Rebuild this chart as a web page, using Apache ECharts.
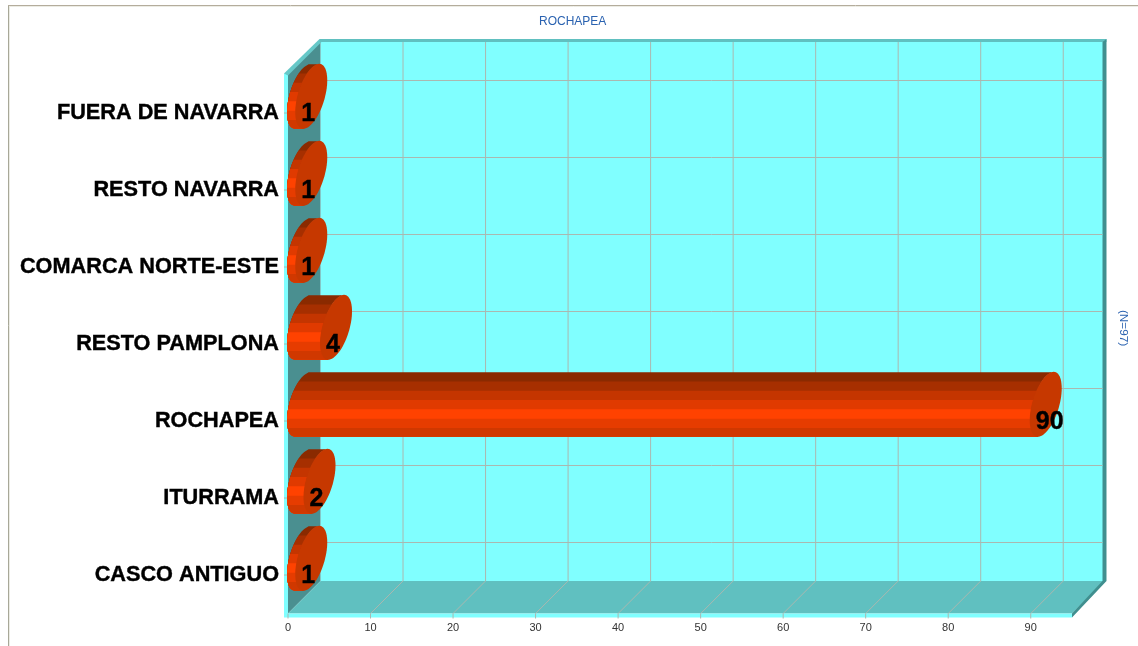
<!DOCTYPE html>
<html>
<head>
<meta charset="utf-8">
<style>html,body{margin:0;padding:0;background:#fff}#chart{width:1138px;height:646px}</style>
<script src="https://cdn.jsdelivr.net/npm/echarts@6/dist/echarts.min.js"></script>
</head>
<body>
<div id="chart"></div>
<script>
// Destination counts for ROCHAPEA, listed bottom to top on the category axis
const categories = ['CASCO ANTIGUO', 'ITURRAMA', 'ROCHAPEA', 'RESTO PAMPLONA', 'COMARCA NORTE-ESTE', 'RESTO NAVARRA', 'FUERA DE NAVARRA'];
const values = [1, 2, 90, 4, 1, 1, 1];
const xTicks = [0, 10, 20, 30, 40, 50, 60, 70, 80, 90];
const titleText = 'ROCHAPEA';
const sampleText = '(N=97)';

// Oblique projection of the box and colours of the shaded cylinder facets
const DEPTH_X = 32.5, DEPTH_Y = 32.5;
const BAND_SHADES = ['#8a2a00', '#a62f00', '#c43500', '#e03a00', '#ff4200', '#e63c00', '#d03800'];
const END_FACE = '#c63800';
const GRID_LINE = '#aab8b0';
const FONT = '"Liberation Sans", Arial, sans-serif';

const poly = (points, fill, z2) => ({type: 'polygon', shape: {points}, style: {fill}, z2: z2 || 0, silent: true});
const seg = (x1, y1, x2, y2) => ({type: 'line', shape: {x1, y1, x2, y2}, style: {stroke: GRID_LINE, lineWidth: 1}, z2: 5, silent: true});

// Back wall, side wall, floor and the grid lines that run across them
function renderBox(params, api) {
  const r = params.coordSys;
  const L = r.x, T = r.y, R = r.x + r.width, B = r.y + r.height;
  const dx = DEPTH_X, dy = DEPTH_Y;
  const top = T - dy - 2;
  const kids = [
    poly([[L + dx, top], [R + dx, top], [R + dx, B - dy], [L + dx, B - dy]], '#80ffff'),
    poly([[L, T - 1], [L + dx, top], [L + dx, B - dy], [L, B]], '#4a8f90'),
    poly([[L, B], [L + dx, B - dy], [R + dx, B - dy], [R, B]], '#60c0c0'),
    // outer lips of the box
    poly([[L - 4, T - 1], [L, T - 1], [L, B + 4], [L - 4, B + 4]], '#80ffff', 1),
    poly([[L, B], [R, B], [R, B + 4], [L, B + 4]], '#80ffff', 1),
    poly([[L - 4, T - 1], [L + dx - 1, top - 1], [L + dx + 1, top + 2], [L, T + 1]], '#66c8c8', 1),
    poly([[L + dx - 1, top - 1], [R + dx + 2, top - 1], [R + dx + 2, top + 2], [L + dx - 1, top + 2]], '#60c0c0', 1),
    poly([[R + dx - 2, top + 2], [R + dx + 2, top - 1], [R + dx + 2, B - dy], [R, B + 4], [R, B], [R + dx - 2, B - dy]], '#408f8f', 2)
  ];
  xTicks.forEach((t) => {
    const x = api.coord([t, 0])[0];
    if (t > 0) {
      kids.push(seg(x + dx, top + 2, x + dx, B - dy));
      kids.push(seg(x + dx, B - dy, x, B));
    }
    kids.push(seg(x, B, x, B + 5));
  });
  categories.forEach((c) => {
    const y = api.coord([0, c])[1];
    kids.push(seg(L + dx, y - dy, R + dx - 2, y - dy));
    kids.push(seg(L - 4, y, L, y));
    kids.push(seg(L, y, L + dx, y - dy));
  });
  return {type: 'group', children: kids};
}

// Left arc of a slanted end disc at height y, relative to the disc centre
function leftArc(y, a, r) {
  const A = 1 / (a * a) + 1 / (r * r), Bq = 2 * y / (r * r), C = y * y / (r * r) - 1;
  const disc = Math.max(0, Bq * Bq - 4 * A * C);
  return (-Bq - Math.sqrt(disc)) / (2 * A);
}

// One cylinder: horizontal shaded facets swept along the value axis, capped by a tilted disc.
// Each facet runs to the bottom of the body and the next one paints over it, so no seams appear.
function renderBar(params, api) {
  const v = api.value(0), cat = categories[api.value(1)];
  const p0 = api.coord([0, cat]);
  const p1 = api.coord([v, cat]);
  const band = api.size([0, 1])[1];
  const halfH = band * 0.422;
  const a = 16, off = 15, lift = 16.7;
  const r = Math.sqrt(halfH * halfH - a * a);
  const cy = p0[1] - lift, cx0 = p0[0] + off, cx1 = p1[0] + off;
  const kids = [];
  const n = BAND_SHADES.length;
  BAND_SHADES.forEach((fill, i) => {
    const yA = -halfH + 2 * halfH * i / n + 0.4;
    const steps = 24;
    const left = [], right = [];
    for (let k = 0; k <= steps; k++) {
      const y = yA + (halfH - yA) * k / steps;
      const u = leftArc(y, a, r);
      left.push([cx0 + u, cy + y]);
      right.unshift([cx1 + u + 0.5, cy + y]);
    }
    kids.push(poly(left.concat(right), fill, 10 + i));
  });
  const face = [];
  for (let k = 0; k < 72; k++) {
    const t = k / 72 * Math.PI * 2;
    const u = a * Math.cos(t);
    face.push([cx1 + u, cy - u + r * Math.sin(t)]);
  }
  kids.push(poly(face, END_FACE, 20));
  kids.push({
    type: 'text', z2: 21, silent: true,
    style: {text: String(v), x: p1[0] + 5, y: p1[1] + 1, align: 'left', verticalAlign: 'middle',
      font: 'bold 25px ' + FONT, fill: '#000', stroke: '#000', lineWidth: 0.4}
  });
  return {type: 'group', children: kids};
}

const chart = echarts.init(document.getElementById('chart'), null, {renderer: 'canvas'});
chart.setOption({
  animation: false,
  backgroundColor: '#ffffff',
  title: {
    text: titleText, left: 534, top: 11,
    textStyle: {fontFamily: FONT, fontSize: 12, fontWeight: 'normal', color: '#2a62b0'}
  },
  grid: {left: 288, top: 74.5, width: 784, height: 539, containLabel: false},
  xAxis: {
    type: 'value', min: 0, max: 95, interval: 10,
    axisLine: {show: false}, axisTick: {show: false}, splitLine: {show: false},
    axisLabel: {showMaxLabel: false, margin: 9, fontSize: 11, color: '#333', fontFamily: FONT}
  },
  yAxis: {
    type: 'category', data: categories,
    axisLine: {show: false}, axisTick: {show: false}, splitLine: {show: false},
    axisLabel: {margin: 9, fontSize: 21.7, fontWeight: 'bold', color: '#000', fontFamily: FONT,
      padding: [4, 0, 0, 0], textBorderColor: '#000', textBorderWidth: 0.4}
  },
  series: [
    {type: 'custom', name: 'box', coordinateSystem: 'cartesian2d', renderItem: renderBox, data: [[0, 0]], z: 1, silent: true, clip: false},
    {type: 'custom', name: 'count', coordinateSystem: 'cartesian2d', renderItem: renderBar, encode: {x: 0, y: 1},
      data: values.map((v, i) => [v, i]), z: 2, silent: true, clip: false}
  ],
  graphic: [
    // Outer frame, open on the right and bottom
    {type: 'line', shape: {x1: 8.5, y1: 646, x2: 8.5, y2: 5.5}, style: {stroke: '#a8a898', lineWidth: 1}, silent: true},
    {type: 'line', shape: {x1: 9.5, y1: 646, x2: 9.5, y2: 6.5}, style: {stroke: '#ececE4', lineWidth: 1}, silent: true},
    {type: 'line', shape: {x1: 8, y1: 5.5, x2: 1138, y2: 5.5}, style: {stroke: '#b4ac9c', lineWidth: 1}, silent: true},
    {type: 'line', shape: {x1: 9, y1: 6.5, x2: 1138, y2: 6.5}, style: {stroke: '#ececE4', lineWidth: 1}, silent: true},
    {type: 'text', x: 1123, y: 328, rotation: -Math.PI / 2, silent: true,
      style: {text: sampleText, align: 'center', verticalAlign: 'middle', font: '11.7px ' + FONT, fill: '#2a62b0'}}
  ]
});
</script>
</body>
</html>
